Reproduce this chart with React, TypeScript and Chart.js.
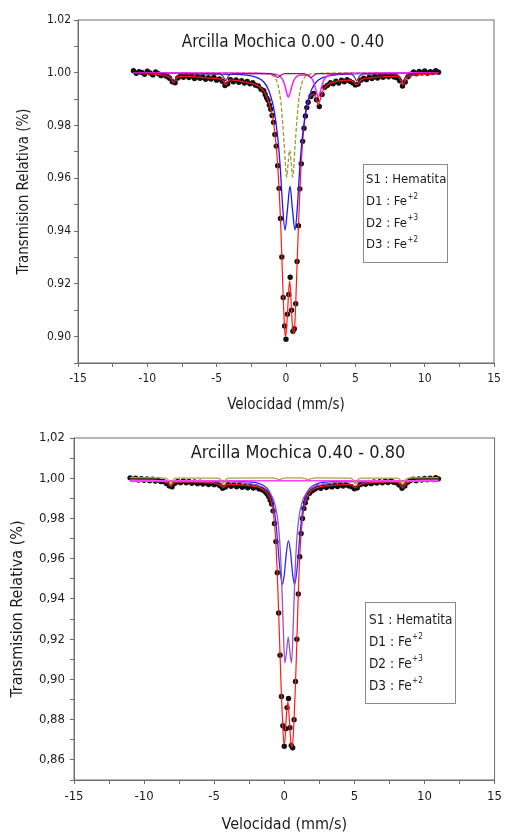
import React, { useEffect, useRef } from 'react';
import { Chart, registerables } from 'chart.js';

Chart.register(...registerables);

// ---------------- shared text ----------------
const TOP_TITLE = 'Arcilla Mochica 0.00 - 0.40';
const BOT_TITLE = 'Arcilla Mochica 0.40 - 0.80';
const X_TITLE = 'Velocidad (mm/s)';
const Y_TITLE = 'Transmision Relativa (%)';
const LEGEND_TEXT = ['S1 : Hematita', 'D1 : Fe', 'D2 : Fe', 'D3 : Fe'];
const LEGEND_SUP = ['', '+2', '+3', '+2'];

// ---------------- measured channels (mm/s) ----------------
const velocity = [
  -11.0, -10.8, -10.6, -10.4, -10.2, -10.0, -9.8, -9.6,
  -9.4, -9.2, -9.0, -8.8, -8.6, -8.4, -8.2, -8.0,
  -7.8, -7.6, -7.4, -7.2, -7.0, -6.8, -6.6, -6.4,
  -6.2, -6.0, -5.8, -5.6, -5.4, -5.2, -5.0, -4.8,
  -4.6, -4.4, -4.2, -4.0, -3.8, -3.6, -3.4, -3.2,
  -3.0, -2.8, -2.6, -2.4, -2.2, -2.0, -1.8, -1.6,
  -1.5, -1.4, -1.3, -1.2, -1.1, -1.0, -0.9, -0.8,
  -0.7, -0.6, -0.5, -0.4, -0.3, -0.2, -0.1, 0.0,
  0.1, 0.2, 0.3, 0.4, 0.5, 0.6, 0.7, 0.8,
  0.9, 1.0, 1.1, 1.2, 1.3, 1.4, 1.5,
  1.6, 1.8, 2.0, 2.2, 2.4, 2.6, 2.8, 3.0,
  3.2, 3.4, 3.6, 3.8, 4.0, 4.2, 4.4, 4.6,
  4.8, 5.0, 5.2, 5.4, 5.6, 5.8, 6.0, 6.2,
  6.4, 6.6, 6.8, 7.0, 7.2, 7.4, 7.6, 7.8,
  8.0, 8.2, 8.4, 8.6, 8.8, 9.0, 9.2, 9.4,
  9.6, 9.8, 10.0, 10.2, 10.4, 10.6, 10.8, 11.0,
];

// ---------------- top sample: 0.00 - 0.40 ----------------
const topMeasured = [
  1.0008, 0.9998, 1.0004, 1.0001, 0.9994, 1.0006, 0.9999, 0.9992,
  1.0003, 0.9996, 0.9989, 0.9993, 0.9986, 0.9979, 0.9966, 0.9962,
  0.9980, 0.9989, 0.9983, 0.9991, 0.9982, 0.9987, 0.9978, 0.9985,
  0.9979, 0.9984, 0.9975, 0.9981, 0.9976, 0.9983, 0.9972, 0.9977,
  0.9968, 0.9952, 0.9958, 0.9974, 0.9966, 0.9973, 0.9964, 0.9970,
  0.9961, 0.9967, 0.9958, 0.9962, 0.9953, 0.9950, 0.9938, 0.9932,
  0.9918, 0.9905, 0.9896, 0.9878, 0.9862, 0.9838, 0.9812, 0.9766,
  0.9722, 0.9648, 0.9562, 0.9448, 0.9302, 0.9148, 0.9040, 0.8990,
  0.9085, 0.9160, 0.9225, 0.9100, 0.9020, 0.9030, 0.9125, 0.9285,
  0.9420, 0.9560, 0.9655, 0.9740, 0.9790, 0.9836, 0.9868,
  0.9888, 0.9910, 0.9922, 0.9898, 0.9872, 0.9918, 0.9945, 0.9953,
  0.9962, 0.9958, 0.9968, 0.9961, 0.9972, 0.9966, 0.9974, 0.9968,
  0.9962, 0.9954, 0.9957, 0.9972, 0.9979, 0.9974, 0.9983, 0.9978,
  0.9986, 0.9980, 0.9988, 0.9983, 0.9991, 0.9985, 0.9990, 0.9984,
  0.9981, 0.9970, 0.9950, 0.9965, 0.9985, 0.9995, 1.0003, 0.9996,
  1.0005, 0.9999, 1.0007, 0.9998, 1.0004, 1.0001, 1.0008, 1.0002,
];

const topFitX = [
  -11, -10, -9, -8.6, -8.3, -8.1, -7.9, -7.6, -7, -6, -5, -4.7, -4.5, -4.35, -4.2, -4.0,
  -3.5, -3, -2.5, -2, -1.6, -1.4, -1.2, -1.0, -0.9, -0.8, -0.7, -0.6, -0.5, -0.4, -0.3,
  -0.2, -0.1, -0.05, 0, 0.1, 0.2, 0.27, 0.35, 0.45, 0.55, 0.65, 0.75, 0.85, 0.95, 1.05,
  1.15, 1.25, 1.4, 1.6, 1.8, 2.0, 2.15, 2.25, 2.33, 2.42, 2.55, 2.7, 3.0, 3.5, 4.0, 4.6,
  4.85, 5.0, 5.1, 5.25, 5.45, 6, 7, 8, 8.2, 8.32, 8.45, 8.6, 8.8, 9.5, 10.5, 11,
];
const topFitY = [
  0.9998, 0.9996, 0.9992, 0.9988, 0.9978, 0.9962, 0.9978, 0.9986, 0.9986, 0.9982, 0.9978, 0.9975, 0.9968, 0.9953, 0.9966, 0.9973,
  0.9970, 0.9965, 0.9960, 0.9950, 0.9930, 0.9910, 0.9880, 0.9840, 0.9810, 0.9770, 0.9720, 0.9650, 0.9560, 0.9450, 0.9300,
  0.9150, 0.9030, 0.9000, 0.9010, 0.9080, 0.9180, 0.9210, 0.9150, 0.9050, 0.9010, 0.9060, 0.9200, 0.9350, 0.9490, 0.9610,
  0.9700, 0.9770, 0.9840, 0.9890, 0.9915, 0.9918, 0.9905, 0.9890, 0.9877, 0.9890, 0.9912, 0.9935, 0.9955, 0.9965, 0.9970, 0.9972,
  0.9966, 0.9958, 0.9955, 0.9963, 0.9974, 0.9980, 0.9985, 0.9986, 0.9980, 0.9965, 0.9953, 0.9970, 0.9986, 0.9992, 0.9995, 0.9996,
];

const topD1X = [-11, -6, -4, -3, -2.5, -2, -1.6, -1.3, -1.1, -0.9, -0.7, -0.55, -0.4, -0.25, -0.07, 0.1,
  0.29, 0.47, 0.65, 0.83, 0.98, 1.13, 1.28, 1.48, 1.68, 1.88, 2.18, 2.58, 3.08, 4, 6, 11];
const topD1Y = [0.9999, 0.9997, 0.9994, 0.9992, 0.9988, 0.9980, 0.9965, 0.9940, 0.9910, 0.9870, 0.9800, 0.9730, 0.9630, 0.9500, 0.9404, 0.9480,
  0.9570, 0.9480, 0.9404, 0.9500, 0.9630, 0.9730, 0.9800, 0.9870, 0.9910, 0.9940, 0.9965, 0.9980, 0.9988, 0.9994, 0.9997, 0.9999];

const topD2X = [-11, -3, -1.6, -1.1, -0.8, -0.65, -0.5, -0.38, -0.24, -0.12, 0.05, 0.16, 0.265,
  0.37, 0.48, 0.65, 0.77, 0.91, 1.03, 1.18, 1.33, 1.63, 2.2, 3.5, 11];
const topD2Y = [1.0, 0.9999, 0.9997, 0.9993, 0.9982, 0.9966, 0.9935, 0.9893, 0.9810, 0.9720, 0.9605, 0.9660, 0.9706,
  0.9660, 0.9605, 0.9720, 0.9810, 0.9893, 0.9935, 0.9966, 0.9982, 0.9993, 0.9997, 0.9999, 1.0];

const topD3X = [-11, -2, -0.6, -0.4, -0.2, -0.05, 0.07, 0.17, 0.27, 0.4, 0.55, 0.75, 1.0, 1.25,
  1.5, 1.75, 1.95, 2.1, 2.23, 2.33, 2.43, 2.56, 2.71, 2.91, 3.3, 4.5, 11];
const topD3Y = [1.0, 0.9998, 0.9992, 0.9985, 0.9970, 0.9945, 0.9920, 0.9907, 0.9920, 0.9945, 0.9970, 0.9985, 0.9991, 0.9992,
  0.9991, 0.9985, 0.9970, 0.9945, 0.9920, 0.9907, 0.9920, 0.9945, 0.9970, 0.9985, 0.9993, 0.9998, 1.0];

const topS1X = [-11, -8.6, -8.3, -8.1, -7.9, -7.6, -4.85, -4.55, -4.35, -4.15, -3.85, -1.1, -0.8, -0.6, -0.4, -0.1,
  1.3, 1.6, 1.8, 2.0, 2.3, 4.6, 4.9, 5.1, 5.3, 5.6, 7.9, 8.2, 8.42, 8.62, 8.9, 11];
const topS1Y = [0.9999, 0.9995, 0.9985, 0.9965, 0.9985, 0.9995, 0.9996, 0.9987, 0.9970, 0.9987, 0.9996, 0.9997, 0.9990, 0.9982, 0.9990, 0.9997,
  0.9997, 0.9990, 0.9982, 0.9990, 0.9997, 0.9996, 0.9987, 0.9970, 0.9987, 0.9996, 0.9995, 0.9985, 0.9965, 0.9985, 0.9995, 0.9999];

// ---------------- bottom sample: 0.40 - 0.80 ----------------
const botMeasured = [
  1.0002, 0.9994, 1.0000, 0.9991, 0.9998, 0.9990, 0.9997, 0.9988,
  0.9995, 0.9986, 0.9992, 0.9984, 0.9983, 0.9974, 0.9962, 0.9958,
  0.9975, 0.9984, 0.9978, 0.9986, 0.9977, 0.9984, 0.9975, 0.9982,
  0.9973, 0.9980, 0.9971, 0.9978, 0.9969, 0.9976, 0.9968, 0.9973,
  0.9963, 0.9950, 0.9956, 0.9968, 0.9960, 0.9967, 0.9958, 0.9965,
  0.9955, 0.9962, 0.9953, 0.9960, 0.9951, 0.9957, 0.9947, 0.9944,
  0.9940, 0.9936, 0.9928, 0.9920, 0.9908, 0.9890, 0.9872, 0.9838,
  0.9775, 0.9685, 0.9530, 0.9330, 0.9120, 0.8915, 0.8770, 0.8668,
  0.8755, 0.8860, 0.8905, 0.8760, 0.8672, 0.8660, 0.8800, 0.8990,
  0.9200, 0.9425, 0.9610, 0.9725, 0.9800, 0.9850, 0.9878,
  0.9902, 0.9925, 0.9938, 0.9946, 0.9955, 0.9950, 0.9960, 0.9954,
  0.9963, 0.9957, 0.9965, 0.9959, 0.9967, 0.9961, 0.9968, 0.9962,
  0.9958, 0.9948, 0.9952, 0.9968, 0.9974, 0.9970, 0.9979, 0.9973,
  0.9981, 0.9976, 0.9983, 0.9977, 0.9985, 0.9979, 0.9986, 0.9980,
  0.9977, 0.9966, 0.9950, 0.9962, 0.9980, 0.9989, 0.9995, 0.9988,
  0.9997, 0.9991, 0.9999, 0.9992, 1.0000, 0.9994, 1.0003, 0.9997,
];

const botFitX = [
  -11, -10, -9, -8.45, -8.25, -8.1, -7.95, -7.75, -7, -6, -5, -4.7, -4.5, -4.35, -4.2, -4.0,
  -3.5, -3, -2.5, -2, -1.5, -1.2, -1.0, -0.86, -0.75, -0.68, -0.6, -0.52, -0.45, -0.38,
  -0.3, -0.22, -0.12, -0.03, 0.05, 0.15, 0.26, 0.37, 0.47, 0.56, 0.64, 0.72, 0.8, 0.87, 0.94,
  1.0, 1.07, 1.14, 1.22, 1.32, 1.45, 1.62, 1.85, 2.2, 2.8, 3.5, 4.5, 4.8, 4.95, 5.08,
  5.2, 5.35, 5.7, 6.5, 7.5, 8.0, 8.15, 8.3, 8.45, 8.6, 8.75, 9.2, 10, 11,
];
const botFitY = [
  0.9994, 0.9992, 0.9988, 0.9980, 0.9972, 0.9960, 0.9972, 0.9980, 0.9982, 0.9980, 0.9975, 0.9970, 0.9964, 0.9954, 0.9962, 0.9968,
  0.9968, 0.9966, 0.9963, 0.9958, 0.9944, 0.9924, 0.9895, 0.9860, 0.9810, 0.9760, 0.9680, 0.9560, 0.9430, 0.9290,
  0.9120, 0.8950, 0.8790, 0.8680, 0.8700, 0.8820, 0.8890, 0.8790, 0.8685, 0.8665, 0.8720, 0.8840, 0.8980, 0.9130, 0.9290,
  0.9430, 0.9560, 0.9660, 0.9740, 0.9810, 0.9870, 0.9905, 0.9932, 0.9950, 0.9960, 0.9965, 0.9969, 0.9965, 0.9958, 0.9952,
  0.9958, 0.9967, 0.9975, 0.9979, 0.9982, 0.9981, 0.9976, 0.9966, 0.9953, 0.9966, 0.9977, 0.9987, 0.9992, 0.9994,
];

const botD1X = [-11, -3, -2.5, -2, -1.5, -1.2, -1.0, -0.85, -0.7, -0.58, -0.48, -0.38, -0.26, -0.14, 0.0, 0.15, 0.3,
  0.45, 0.6, 0.74, 0.86, 0.98, 1.08, 1.18, 1.3, 1.45, 1.6, 1.8, 2.1, 2.6, 3.1, 3.6, 11];
const botD1Y = [0.9985, 0.9984, 0.9982, 0.9978, 0.9965, 0.9948, 0.9925, 0.9890, 0.9835, 0.9765, 0.9690, 0.9600, 0.9520, 0.9472, 0.9520, 0.9630, 0.9690,
  0.9630, 0.9520, 0.9472, 0.9520, 0.9600, 0.9690, 0.9765, 0.9835, 0.9890, 0.9925, 0.9948, 0.9965, 0.9978, 0.9982, 0.9984, 0.9985];

const botD2X = [-11, -4, -3, -2, -1.5, -1.0, -0.7, -0.5, -0.35, -0.2, -0.1, 0.04, 0.16, 0.28,
  0.4, 0.52, 0.66, 0.76, 0.91, 1.06, 1.26, 1.56, 2.06, 2.56, 3.56, 4.56, 11];
const botD2Y = [0.9985, 0.9982, 0.9978, 0.9966, 0.9955, 0.9925, 0.9879, 0.9812, 0.9711, 0.9518, 0.9313, 0.9082, 0.9138, 0.9210,
  0.9138, 0.9082, 0.9313, 0.9518, 0.9711, 0.9812, 0.9879, 0.9925, 0.9955, 0.9966, 0.9978, 0.9982, 0.9985];

const botD3X = [-11, 0, 11];
const botD3Y = [0.9987, 0.9987, 0.9987];

const botS1X = [-11, -8.5, -8.25, -8.1, -7.95, -7.7, -4.75, -4.5, -4.35, -4.2, -3.95, -0.9, -0.55, -0.35, -0.15, 0.2,
  1.2, 1.5, 1.7, 1.9, 2.2, 4.7, 4.93, 5.08, 5.23, 5.48, 8.05, 8.3, 8.45, 8.6, 8.85, 11];
const botS1Y = [1.0003, 1.0001, 0.9990, 0.9968, 0.9990, 1.0001, 1.0001, 0.9991, 0.9970, 0.9991, 1.0001, 1.0002, 0.9998, 0.9993, 0.9998, 1.0002,
  1.0002, 0.9998, 0.9993, 0.9998, 1.0002, 1.0001, 0.9991, 0.9970, 0.9991, 1.0001, 1.0001, 0.9990, 0.9968, 0.9990, 1.0001, 1.0003];

// ---------------- styling ----------------
const FONT = "'Liberation Sans Narrow', 'DejaVu Sans Condensed', 'Roboto', sans-serif";
const AXIS_COLOR = '#6e6e6e';
const TEXT_COLOR = '#1c1c1c';

const pts = (xs: number[], ys: number[]) => xs.map((x, i) => ({ x, y: ys[i] }));

const framePlugin = {
  id: 'frameBox',
  afterDraw(chart: any) {
    const { ctx, chartArea } = chart;
    ctx.save();
    ctx.strokeStyle = AXIS_COLOR;
    ctx.lineWidth = 1;
    ctx.strokeRect(chartArea.left, chartArea.top, chartArea.right - chartArea.left, chartArea.bottom - chartArea.top);
    ctx.restore();
  },
};

const notesPlugin = {
  id: 'notes',
  afterDatasetsDraw(chart: any, _args: any, opts: any) {
    const { ctx, chartArea } = chart;
    ctx.save();
    ctx.fillStyle = TEXT_COLOR;
    ctx.textBaseline = 'middle';
    ctx.textAlign = 'center';
    ctx.font = `${opts.titleSize}px ${FONT}`;
    ctx.fillText(opts.title, chartArea.left + opts.titleDx, chartArea.top + opts.titleDy);

    const b = opts.box;
    ctx.fillStyle = '#ffffff';
    ctx.fillRect(b.x, b.y, b.w, b.h);
    ctx.strokeStyle = '#8a8a8a';
    ctx.lineWidth = 1;
    ctx.strokeRect(b.x + 0.5, b.y + 0.5, b.w, b.h);
    ctx.fillStyle = TEXT_COLOR;
    ctx.textAlign = 'left';
    LEGEND_TEXT.forEach((t, i) => {
      const y = b.firstLine + i * b.lineGap;
      ctx.font = `${b.size}px ${FONT}`;
      ctx.fillText(t, b.textX, y);
      const w = ctx.measureText(t).width;
      if (LEGEND_SUP[i]) {
        ctx.font = `${Math.round(b.size * 0.6)}px ${FONT}`;
        ctx.fillText(LEGEND_SUP[i], b.textX + w + 0.5, y - 5);
      }
    });
    ctx.restore();
  },
};

type Spec = {
  measured: number[];
  fitX: number[]; fitY: number[];
  d1X: number[]; d1Y: number[];
  d2X: number[]; d2Y: number[];
  d3X: number[]; d3Y: number[];
  s1X: number[]; s1Y: number[];
  colors: { d1: string; d2: string; d3: string; s1: string };
  dash: { d2: number[]; s1: number[] };
  yMin: number; yMax: number; comma: boolean;
  title: string; titleSize: number; titleDx: number; titleDy: number;
  pad: { top: number; right: number };
  yWidth: number; xHeight: number;
  yTitlePad: number; xTitlePad: number;
  tickSize: number; yTickPad: number; axisTitleSize: number;
  box: any;
};

function buildConfig(s: Spec): any {
  const line = (xs: number[], ys: number[], color: string, width: number, order: number, dash: number[] = []) => ({
    data: pts(xs, ys),
    showLine: true,
    borderColor: color,
    borderWidth: width,
    borderDash: dash,
    pointRadius: 0,
    fill: false,
    cubicInterpolationMode: 'monotone',
    order,
  });
  return {
    type: 'scatter',
    data: {
      datasets: [
        line(s.s1X, s.s1Y, s.colors.s1, 1.2, 1, s.dash.s1),
        line(s.d3X, s.d3Y, s.colors.d3, 1.5, 2),
        line(s.d2X, s.d2Y, s.colors.d2, 1.3, 3, s.dash.d2),
        line(s.d1X, s.d1Y, s.colors.d1, 1.3, 4),
        line(s.fitX, s.fitY, '#ff1a1a', 1.2, 5),
        {
          data: pts(velocity, s.measured),
          showLine: false,
          pointRadius: 2.7,
          pointHoverRadius: 2.7,
          pointBackgroundColor: '#111111',
          pointBorderWidth: 0,
          order: 10,
        },
      ],
    },
    options: {
      responsive: false,
      animation: false,
      events: [],
      layout: { autoPadding: false, padding: { left: 0, top: s.pad.top, right: s.pad.right, bottom: 0 } },
      plugins: {
        legend: { display: false },
        tooltip: { enabled: false },
        notes: { title: s.title, titleSize: s.titleSize, titleDx: s.titleDx, titleDy: s.titleDy, box: s.box },
      },
      scales: {
        x: {
          type: 'linear',
          min: -15,
          max: 15,
          afterFit: (sc: any) => { sc.height = s.xHeight; },
          ticks: {
            stepSize: 2.5,
            autoSkip: false,
            maxRotation: 0,
            padding: 5,
            color: TEXT_COLOR,
            font: { family: FONT, size: s.tickSize },
            callback: (v: number) => (Math.abs(Math.round(v * 10) % 50) === 0 ? String(Math.round(v)) : ''),
          },
          grid: { drawOnChartArea: false, drawTicks: true, tickLength: 4, tickColor: AXIS_COLOR },
          border: { display: true, color: AXIS_COLOR, width: 1 },
          title: {
            display: true,
            text: X_TITLE,
            color: TEXT_COLOR,
            font: { family: FONT, size: s.axisTitleSize, lineHeight: 1 },
            padding: { top: 0, bottom: s.xTitlePad },
          },
        },
        y: {
          type: 'linear',
          min: s.yMin,
          max: s.yMax,
          afterFit: (sc: any) => { sc.width = s.yWidth; },
          ticks: {
            stepSize: 0.01,
            autoSkip: false,
            padding: s.yTickPad,
            color: TEXT_COLOR,
            font: { family: FONT, size: s.tickSize },
            callback: (v: number) => {
              const k = Math.round(v * 100);
              if (k % 2 !== 0) return '';
              const txt = (k / 100).toFixed(2);
              return s.comma ? txt.replace('.', ',') : txt;
            },
          },
          grid: { drawOnChartArea: false, drawTicks: true, tickLength: 4, tickColor: AXIS_COLOR },
          border: { display: true, color: AXIS_COLOR, width: 1 },
          title: {
            display: true,
            text: Y_TITLE,
            color: TEXT_COLOR,
            font: { family: FONT, size: s.axisTitleSize, lineHeight: 1 },
            padding: { top: s.yTitlePad, bottom: 0 },
          },
        },
      },
    },
    plugins: [framePlugin, notesPlugin],
  };
}

const topSpec: Spec = {
  measured: topMeasured,
  fitX: topFitX, fitY: topFitY,
  d1X: topD1X, d1Y: topD1Y,
  d2X: topD2X, d2Y: topD2Y,
  d3X: topD3X, d3Y: topD3Y,
  s1X: topS1X, s1Y: topS1Y,
  colors: { d1: '#1a1aff', d2: '#9c9a3c', d3: '#ff1aff', s1: '#7a1a6a' },
  dash: { d2: [4, 2], s1: [] },
  yMin: 0.89, yMax: 1.02, comma: false,
  title: TOP_TITLE, titleSize: 17, titleDx: 205, titleDy: 23,
  pad: { top: 20, right: 13 },
  yWidth: 78, xHeight: 57,
  yTitlePad: 17, xTitlePad: 7,
  tickSize: 12, yTickPad: 3, axisTitleSize: 15,
  box: { x: 363, y: 164, w: 84, h: 98, textX: 366, firstLine: 180, lineGap: 21.7, size: 13 },
};

const botSpec: Spec = {
  measured: botMeasured,
  fitX: botFitX, fitY: botFitY,
  d1X: botD1X, d1Y: botD1Y,
  d2X: botD2X, d2Y: botD2Y,
  d3X: botD3X, d3Y: botD3Y,
  s1X: botS1X, s1Y: botS1Y,
  colors: { d1: '#2a2aff', d2: '#9a50c8', d3: '#ff40ff', s1: '#b0a040' },
  dash: { d2: [], s1: [] },
  yMin: 0.85, yMax: 1.02, comma: true,
  title: BOT_TITLE, titleSize: 18, titleDx: 224, titleDy: 15,
  pad: { top: 18, right: 3.5 },
  yWidth: 74, xHeight: 53,
  yTitlePad: 10, xTitlePad: 0,
  tickSize: 13, yTickPad: 5, axisTitleSize: 16,
  box: { x: 365, y: 182, w: 90, h: 101, textX: 369, firstLine: 200, lineGap: 22, size: 13.5 },
};

function SpectrumChart({ spec, width, height }: { spec: Spec; width: number; height: number }) {
  const ref = useRef<HTMLCanvasElement>(null);
  useEffect(() => {
    if (!ref.current) return;
    const chart = new Chart(ref.current, buildConfig(spec));
    return () => chart.destroy();
  }, [spec]);
  return <canvas ref={ref} width={width} height={height} style={{ display: 'block', width, height }} />;
}

export default function App() {
  return (
    <div style={{ position: 'absolute', left: 0, top: 0, width: 507, height: 833, background: '#ffffff', overflow: 'hidden' }}>
      <div style={{ position: 'absolute', left: 0, top: 0 }}>
        <SpectrumChart spec={topSpec} width={507} height={420} />
      </div>
      <div style={{ position: 'absolute', left: 0, top: 420 }}>
        <SpectrumChart spec={botSpec} width={507} height={413} />
      </div>
    </div>
  );
}
